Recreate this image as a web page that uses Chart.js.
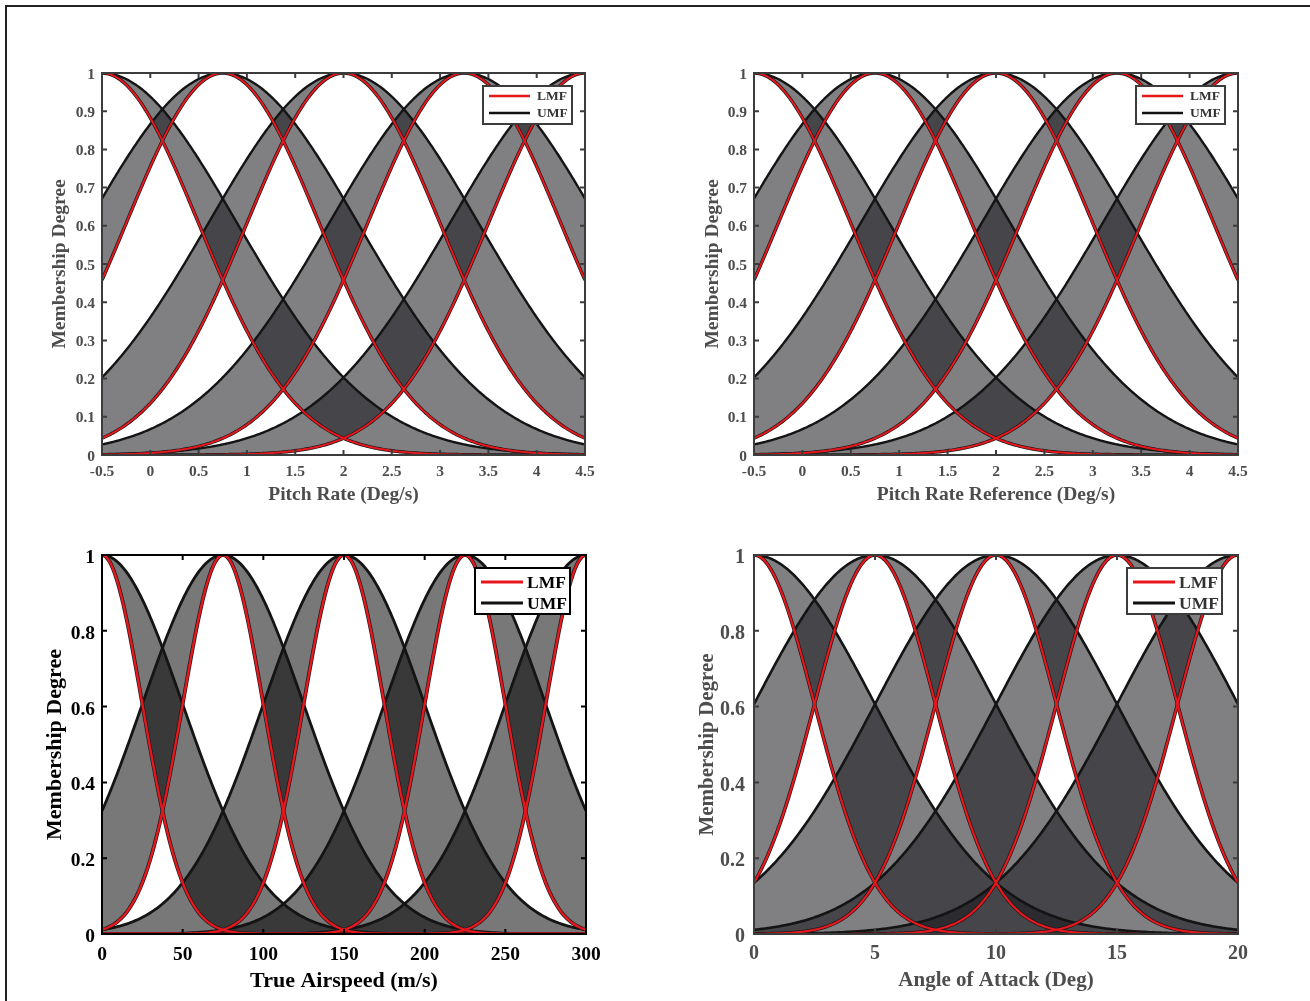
<!DOCTYPE html>
<html>
<head>
<meta charset="utf-8">
<script src="https://cdn.jsdelivr.net/npm/chart.js@4.4.0/dist/chart.umd.min.js"></script>
<style>
  body { margin: 0; background: #fff; }
  #page { position: relative; width: 1310px; height: 1001px; overflow: hidden; background: #fff; }
  #frame { position: absolute; left: 5px; top: 5px; width: 1310px; height: 1001px; border-top: 2px solid #222; border-left: 2px solid #222; }
  canvas { position: absolute; }
</style>
</head>
<body>
<div id="page">
  <div id="frame"></div>
  <canvas id="pitchRate" width="655" height="520" style="left:0;top:0"></canvas>
  <canvas id="pitchRateRef" width="655" height="520" style="left:655px;top:0"></canvas>
  <canvas id="airspeed" width="655" height="481" style="left:0;top:520px"></canvas>
  <canvas id="alpha" width="655" height="481" style="left:655px;top:520px"></canvas>
</div>
<script>
// interval type-2 gaussian sets: centre, upper (UMF) spread, lower (LMF) spread
const pitchRateCenters = [-0.5, 0.75, 2, 3.25, 4.5];
const pitchRateUpperSigma = [1.4, 1.4, 1.4, 1.4, 1.4];
const pitchRateLowerSigma = [1.0, 1.0, 1.0, 1.0, 1.0];

const pitchRefCenters = [-0.5, 0.75, 2, 3.25, 4.5];
const pitchRefUpperSigma = [1.4, 1.4, 1.4, 1.4, 1.4];
const pitchRefLowerSigma = [1.0, 1.0, 1.0, 1.0, 1.0];

const airspeedCenters = [0, 75, 150, 225, 300];
const airspeedUpperSigma = [50, 50, 50, 50, 50];
const airspeedLowerSigma = [25, 25, 25, 25, 25];

const alphaCenters = [0, 5, 10, 15, 20];
const alphaUpperSigma = [5, 5, 5, 5, 5];
const alphaLowerSigma = [2.5, 2.5, 2.5, 2.5, 2.5];

// tick values
const pitchTicks = [-0.5, 0, 0.5, 1, 1.5, 2, 2.5, 3, 3.5, 4, 4.5];
const airspeedTicks = [0, 50, 100, 150, 200, 250, 300];
const alphaTicks = [0, 5, 10, 15, 20];
const degreeTicksFine = [0, 0.1, 0.2, 0.3, 0.4, 0.5, 0.6, 0.7, 0.8, 0.9, 1];
const degreeTicksCoarse = [0, 0.2, 0.4, 0.6, 0.8, 1];

const legendLabels = ['LMF', 'UMF'];
const legendColors = ['#e8161d', '#111111'];

const FONT = "'Liberation Serif', 'Times New Roman', serif";
const gauss = (x, c, s) => Math.exp(-((x - c) * (x - c)) / (2 * s * s));

// MATLAB style frame with inward ticks on all four sides
const axisBox = {
  id: 'axisBox',
  afterDraw(chart, args, opts) {
    const { ctx, chartArea: a, scales: { x, y } } = chart;
    ctx.save();
    ctx.strokeStyle = opts.color;
    ctx.lineWidth = opts.width;
    ctx.beginPath();
    x.ticks.forEach(t => {
      const px = x.getPixelForValue(t.value);
      ctx.moveTo(px, a.bottom); ctx.lineTo(px, a.bottom - opts.tick);
      ctx.moveTo(px, a.top); ctx.lineTo(px, a.top + opts.tick);
    });
    y.ticks.forEach(t => {
      const py = y.getPixelForValue(t.value);
      ctx.moveTo(a.left, py); ctx.lineTo(a.left + opts.tick, py);
      ctx.moveTo(a.right, py); ctx.lineTo(a.right - opts.tick, py);
    });
    ctx.stroke();
    ctx.strokeRect(a.left, a.top, a.right - a.left, a.bottom - a.top);
    ctx.restore();
  }
};

// boxed legend in the upper right corner
const boxLegend = {
  id: 'boxLegend',
  afterDatasetsDraw(chart, args, opts) {
    const { ctx, chartArea } = chart;
    const left = chartArea.right - opts.inset[0] - opts.width;
    const top = chartArea.top + opts.inset[1];
    ctx.save();
    ctx.fillStyle = '#fff';
    ctx.fillRect(left, top, opts.width, opts.height);
    ctx.lineWidth = 2;
    ctx.strokeStyle = opts.border;
    ctx.strokeRect(left, top, opts.width, opts.height);
    ctx.font = 'bold ' + opts.fontSize + 'px ' + FONT;
    ctx.textBaseline = 'middle';
    legendLabels.forEach((label, i) => {
      const y = top + opts.rowY[i];
      ctx.strokeStyle = legendColors[i];
      ctx.lineWidth = opts.lineWidth;
      ctx.beginPath();
      ctx.moveTo(left + opts.lineX[0], y);
      ctx.lineTo(left + opts.lineX[1], y);
      ctx.stroke();
      ctx.fillStyle = opts.textColor;
      ctx.fillText(label, left + opts.textX, y + 1);
    });
    ctx.restore();
  }
};

function buildPanel(id, cfg) {
  const [min, max] = cfg.range;
  const n = 300;
  const xs = [];
  for (let i = 0; i <= n; i++) xs.push(min + (max - min) * i / n);

  const datasets = [];
  cfg.centers.forEach((c, i) => {
    const upper = xs.map(x => ({ x, y: gauss(x, c, cfg.upper[i]) }));
    const lower = xs.map(x => ({ x, y: gauss(x, c, cfg.lower[i]) }));
    const base = datasets.length;
    datasets.push({ label: 'UMF', data: upper, borderColor: '#141414', borderWidth: cfg.lineWidth,
      backgroundColor: cfg.fill, fill: base + 1, order: 3 });
    datasets.push({ label: 'LMF edge', data: lower, borderColor: '#1a1a1a', borderWidth: cfg.lineWidth + 1,
      fill: false, order: 2 });
    datasets.push({ label: 'LMF', data: lower, borderColor: legendColors[0], borderWidth: cfg.lineWidth - 0.4,
      fill: false, order: 1 });
  });

  const tickFont = { family: FONT, size: cfg.tickSize, weight: 'bold' };
  const titleFont = { family: FONT, size: cfg.titleSize, weight: 'bold' };
  const plain = v => String(v);

  return new Chart(document.getElementById(id), {
    type: 'line',
    data: { datasets },
    plugins: [axisBox, boxLegend],
    options: {
      responsive: false,
      animation: false,
      layout: { padding: cfg.padding },
      elements: { point: { radius: 0 }, line: { tension: 0 } },
      plugins: {
        legend: { display: false },
        tooltip: { enabled: false },
        filler: { drawTime: 'beforeDatasetsDraw' },
        axisBox: { color: cfg.boxColor, width: 2, tick: 5 },
        boxLegend: Object.assign({ border: cfg.boxColor, textColor: cfg.legendText }, cfg.legend)
      },
      scales: {
        x: {
          type: 'linear', min, max,
          afterBuildTicks: s => { s.ticks = cfg.xTicks.map(v => ({ value: v })); },
          afterFit: s => { s.height = cfg.xHeight; },
          grid: { display: false, drawTicks: false },
          border: { display: false },
          ticks: { color: cfg.textColor, font: tickFont, padding: cfg.xTickPad, maxRotation: 0, autoSkip: false, callback: plain },
          title: { display: true, text: cfg.xTitle, color: cfg.textColor, font: titleFont,
            padding: { top: 0, bottom: cfg.xTitlePad } }
        },
        y: {
          type: 'linear', min: 0, max: 1,
          afterBuildTicks: s => { s.ticks = cfg.yTicks.map(v => ({ value: v })); },
          afterFit: s => { s.width = cfg.yWidth; },
          grid: { display: false, drawTicks: false },
          border: { display: false },
          ticks: { color: cfg.textColor, font: tickFont, padding: cfg.yTickPad, autoSkip: false, callback: plain,
            labelOffset: cfg.yLabelShift },
          title: { display: true, text: 'Membership Degree', color: cfg.textColor, font: titleFont,
            padding: { top: cfg.yTitlePad, bottom: 0 } }
        }
      }
    }
  });
}

const greyStyle = {
  textColor: '#4d4d4d', boxColor: '#3c3c3c', legendText: '#333', fill: 'rgba(21,21,25,0.54)'
};
const smallLegend = { width: 89, height: 38, inset: [13, 13], lineX: [6, 47], rowY: [10, 27], textX: 54, fontSize: 13.5, lineWidth: 2.5 };
const largeLegend = { width: 95, height: 46, inset: [16, 13], lineX: [6, 48], rowY: [14, 35], textX: 52, fontSize: 17.5, lineWidth: 3 };

buildPanel('pitchRate', Object.assign({}, greyStyle, {
  centers: pitchRateCenters, upper: pitchRateUpperSigma, lower: pitchRateLowerSigma,
  range: [-0.5, 4.5], xTicks: pitchTicks, yTicks: degreeTicksFine,
  xTitle: 'Pitch Rate (Deg/s)', lineWidth: 2.4,
  tickSize: 15.5, titleSize: 19.5,
  padding: { left: 0, top: 73, right: 70, bottom: 0 }, yWidth: 102, xHeight: 65,
  xTickPad: 8, yTickPad: 7, xTitlePad: 13, yTitlePad: 48, yLabelShift: 1.5,
  legend: smallLegend
}));

buildPanel('pitchRateRef', Object.assign({}, greyStyle, {
  centers: pitchRefCenters, upper: pitchRefUpperSigma, lower: pitchRefLowerSigma,
  range: [-0.5, 4.5], xTicks: pitchTicks, yTicks: degreeTicksFine,
  xTitle: 'Pitch Rate Reference (Deg/s)', lineWidth: 2.4,
  tickSize: 15.5, titleSize: 19.5,
  padding: { left: 0, top: 73, right: 72, bottom: 0 }, yWidth: 99, xHeight: 65,
  xTickPad: 8, yTickPad: 7, xTitlePad: 13, yTitlePad: 46, yLabelShift: 1.5,
  legend: smallLegend
}));

buildPanel('airspeed', {
  textColor: '#000', boxColor: '#000', legendText: '#000', fill: 'rgba(0,0,0,0.53)',
  centers: airspeedCenters, upper: airspeedUpperSigma, lower: airspeedLowerSigma,
  range: [0, 300], xTicks: airspeedTicks, yTicks: degreeTicksCoarse,
  xTitle: 'True Airspeed (m/s)', lineWidth: 2.8,
  tickSize: 19.5, titleSize: 22,
  padding: { left: 0, top: 35, right: 69, bottom: 0 }, yWidth: 102, xHeight: 67,
  xTickPad: 9, yTickPad: 7, xTitlePad: 6, yTitlePad: 42, yLabelShift: 3,
  legend: largeLegend
});

buildPanel('alpha', Object.assign({}, greyStyle, {
  centers: alphaCenters, upper: alphaUpperSigma, lower: alphaLowerSigma,
  range: [0, 20], xTicks: alphaTicks, yTicks: degreeTicksCoarse,
  xTitle: 'Angle of Attack (Deg)', lineWidth: 2.6,
  tickSize: 20, titleSize: 21,
  padding: { left: 0, top: 35, right: 72, bottom: 0 }, yWidth: 99, xHeight: 67,
  xTickPad: 8, yTickPad: 9, xTitlePad: 8, yTitlePad: 40, yLabelShift: 3,
  legend: largeLegend
}));
</script>
</body>
</html>
